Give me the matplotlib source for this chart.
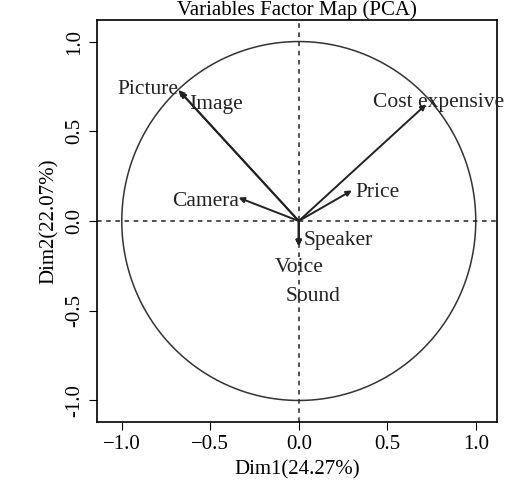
import matplotlib
matplotlib.use("Agg")
import matplotlib.pyplot as plt
import numpy as np

plt.rcParams['font.family'] = ['Liberation Serif', 'DejaVu Serif']

variables = ["Picture", "Image", "Cost expensive", "Price", "Camera", "Speaker", "Voice", "Sound"]
dim1 = [-0.68, -0.67, 0.72, 0.30, -0.34, 0.00, 0.00, 0.00]
dim2 = [0.73, 0.72, 0.65, 0.17, 0.13, -0.14, -0.14, -0.14]
# label positions (x, y, ha)
label_pos = [(-0.68, 0.73, "right"), (-0.62, 0.65, "left"), (0.79, 0.66, "center"),
             (0.32, 0.16, "left"), (-0.34, 0.11, "right"), (0.03, -0.11, "left"),
             (0.0, -0.26, "center"), (0.08, -0.42, "center")]

fig = plt.figure(figsize=(5.2, 4.84), dpi=100)
ax = fig.add_axes([97/520, 62/484, 400/520, 402/484])

t = np.linspace(0, 2*np.pi, 400)
ax.plot(np.cos(t), np.sin(t), color="#333333", lw=1.1)
ax.axhline(0, color="#222222", ls=(0, (3, 3)), lw=1.1)
ax.axvline(0, color="#222222", ls=(0, (3, 3)), lw=1.1)

for x, y in zip(dim1, dim2):
    ax.annotate("", xy=(x, y), xytext=(0, 0),
                arrowprops=dict(arrowstyle="-|>", color="#222222", lw=1.4,
                                mutation_scale=8, shrinkA=0, shrinkB=0))
for name, (lx, ly, ha) in zip(variables, label_pos):
    ax.text(lx, ly, name, ha=ha, va="center", fontsize=15.5, color="#222222")

ax.set_xlim(-1.14, 1.12)
ax.set_ylim(-1.12, 1.12)
ax.set_xticks([-1.0, -0.5, 0.0, 0.5, 1.0])
ax.set_yticks([-1.0, -0.5, 0.0, 0.5, 1.0])
ax.set_yticklabels(["-1.0", "-0.5", "0.0", "0.5", "1.0"], rotation=90, va="center")
ax.tick_params(labelsize=15, length=6)
ax.set_xlabel("Dim1(24.27%)", fontsize=15)
ax.set_ylabel("Dim2(22.07%)", fontsize=15)
ax.set_title("Variables Factor Map (PCA)", fontsize=15, pad=3)
for s in ax.spines.values():
    s.set_linewidth(1.2)

fig.savefig("out.png", dpi=100)
